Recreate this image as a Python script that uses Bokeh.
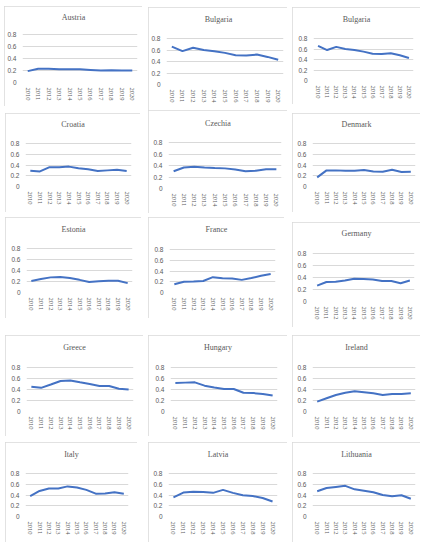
from bokeh.plotting import figure
from bokeh.models import Range1d, FixedTicker, Label
from bokeh.layouts import row, column
from bokeh.embed import file_html
from bokeh.resources import INLINE

years = list(range(2010, 2021))
y_ticks = [0, 0.2, 0.4, 0.6, 0.8]
y_tick_labels = ["0", "0.2", "0.4", "0.6", "0.8"]

# values, 2010..2020
austria = [0.19, 0.23, 0.23, 0.22, 0.22, 0.22, 0.21, 0.20, 0.205, 0.20, 0.20]
bulgaria = [0.66, 0.58, 0.64, 0.60, 0.58, 0.55, 0.51, 0.505, 0.52, 0.48, 0.43]
croatia = [0.295, 0.28, 0.36, 0.36, 0.37, 0.34, 0.32, 0.29, 0.30, 0.31, 0.29]
czechia = [0.30, 0.365, 0.38, 0.365, 0.355, 0.35, 0.33, 0.30, 0.31, 0.335, 0.335]
denmark = [0.17, 0.30, 0.30, 0.295, 0.295, 0.305, 0.28, 0.275, 0.31, 0.27, 0.275]
estonia = [0.21, 0.245, 0.275, 0.28, 0.265, 0.23, 0.19, 0.205, 0.215, 0.215, 0.17]
france = [0.155, 0.20, 0.205, 0.215, 0.285, 0.265, 0.26, 0.235, 0.27, 0.31, 0.345]
germany = [0.265, 0.325, 0.33, 0.35, 0.38, 0.375, 0.365, 0.34, 0.34, 0.305, 0.35]
greece = [0.45, 0.43, 0.49, 0.555, 0.565, 0.53, 0.50, 0.465, 0.465, 0.415, 0.40]
hungary = [0.52, 0.525, 0.53, 0.47, 0.435, 0.41, 0.41, 0.34, 0.335, 0.32, 0.29]
ireland = [0.18, 0.24, 0.30, 0.34, 0.37, 0.35, 0.33, 0.30, 0.32, 0.32, 0.33]
italy = [0.38, 0.475, 0.52, 0.52, 0.56, 0.54, 0.495, 0.425, 0.43, 0.45, 0.425]
latvia = [0.355, 0.445, 0.46, 0.455, 0.44, 0.495, 0.44, 0.395, 0.38, 0.345, 0.28]
lithuania = [0.47, 0.53, 0.55, 0.57, 0.505, 0.48, 0.45, 0.40, 0.375, 0.395, 0.33]

names = ["Austria", "Bulgaria", "Bulgaria",
         "Croatia", "Czechia", "Denmark",
         "Estonia", "France", "Germany",
         "Greece", "Hungary", "Ireland",
         "Italy", "Latvia", "Lithuania"]
series = [austria, bulgaria, bulgaria,
          croatia, czechia, denmark,
          estonia, france, germany,
          greece, hungary, ireland,
          italy, latvia, lithuania]

# panel boxes on the page: x, y, w, h, top of 0.8 line, plot h, left, right, title offset
boxes = [
    (4, 6, 138, 100, 28, 48, 18, 5, 11),
    (148, 7, 138, 103, 31, 46, 17, 4, 12),
    (291, 7, 128, 97, 31, 42, 21, 7, 12),
    (5, 113, 135, 99, 30, 43, 20, 9, 11),
    (148, 110, 139, 103, 32, 46, 20, 6, 13),
    (292, 113, 128, 99, 30, 43, 20, 5, 11),
    (5, 217, 136, 101, 31, 44, 21, 9, 12),
    (148, 217, 136, 101, 32, 43, 21, 9, 12),
    (292, 222, 128, 105, 31, 48, 20, 6, 11),
    (5, 335, 138, 101, 32, 44, 21, 10, 12),
    (148, 335, 139, 101, 32, 44, 22, 10, 12),
    (292, 335, 128, 102, 32, 44, 20, 5, 12),
    (5, 442, 132, 100, 31, 43, 20, 9, 12),
    (148, 442, 139, 100, 31, 43, 20, 10, 12),
    (292, 442, 128, 100, 31, 43, 20, 5, 12),
]

GREY = "#595959"
GRID = "#d9d9d9"
BLUE = "#4472C4"
X0, X1 = 2009.5, 2020.5
Y0, Y1 = 0, 0.8
PAD_TOP = 3  # frame starts this far below the box top, so the title sits inside it


def make_panel(name, vals, box, margin):
    x, y, w, h, top, fh, left, right, toff = box
    bottom = h - top - fh
    fw = w - left - right
    # frame reaches up to the title; the value axis still tops out at 0.8
    full_h = fh + top - PAD_TOP
    y_end = Y0 + (Y1 - Y0) * full_h / fh
    p = figure(title=None, frame_width=fw, frame_height=full_h,
               min_border_left=left, min_border_right=right,
               min_border_top=PAD_TOP, min_border_bottom=bottom,
               x_range=Range1d(X0, X1), y_range=Range1d(Y0, y_end),
               output_backend="svg", toolbar_location=None, tools="",
               margin=margin,
               styles={"outline": "1px solid #d9d9d9", "outline-offset": "-1px"})
    p.outline_line_color = None
    p.background_fill_color = "white"
    p.border_fill_color = "white"

    p.line(years, vals, line_color=BLUE, line_width=2)

    p.xgrid.visible = False
    p.ygrid.grid_line_color = GRID
    p.ygrid.grid_line_width = 1

    p.yaxis.ticker = FixedTicker(ticks=y_ticks)
    p.yaxis.major_label_overrides = dict(zip(y_ticks, y_tick_labels))
    p.yaxis.major_label_text_font = "Liberation Sans"
    p.yaxis.major_label_text_font_size = "6.5px"
    p.yaxis.major_label_standoff = 6

    p.xaxis.ticker = FixedTicker(ticks=years)
    p.xaxis.major_label_orientation = "vertical"
    p.xaxis.major_label_text_font = "Liberation Serif"
    p.xaxis.major_label_text_font_size = "6.5px"
    p.xaxis.major_label_standoff = 5

    for ax in (p.xaxis, p.yaxis):
        ax.axis_line_color = None
        ax.major_tick_line_color = None
        ax.minor_tick_line_color = None
        ax.major_tick_out = 0
        ax.major_tick_in = 0
        ax.major_label_text_color = GREY

    # panel title, centred on the whole box
    cx = X0 + (X1 - X0) * ((fw + right - left) / 2) / fw
    cy = Y0 + (Y1 - Y0) * (fh + top - toff) / fh
    title = Label(x=cx, y=cy, text=name,
                  text_align="center", text_baseline="middle",
                  text_font="Liberation Serif", text_font_size="8px",
                  text_color=GREY)
    p.add_layout(title)
    return p


rows = []
prev_bottom = 0
for r in range(5):
    bx = boxes[r * 3:r * 3 + 3]
    row_top = min(b[1] for b in bx)
    figs = []
    prev_right = 0
    for i in range(3):
        b = bx[i]
        m = (b[1] - row_top, 0, 0, b[0] - prev_right)
        figs.append(make_panel(names[r * 3 + i], series[r * 3 + i], b, m))
        prev_right = b[0] + b[2]
    rows.append(row(figs, spacing=0, margin=(row_top - prev_bottom, 0, 0, 0)))
    prev_bottom = max(b[1] + b[3] for b in bx)

layout = column(rows, spacing=0)

open("out.html", "w").write(file_html(layout, INLINE))
